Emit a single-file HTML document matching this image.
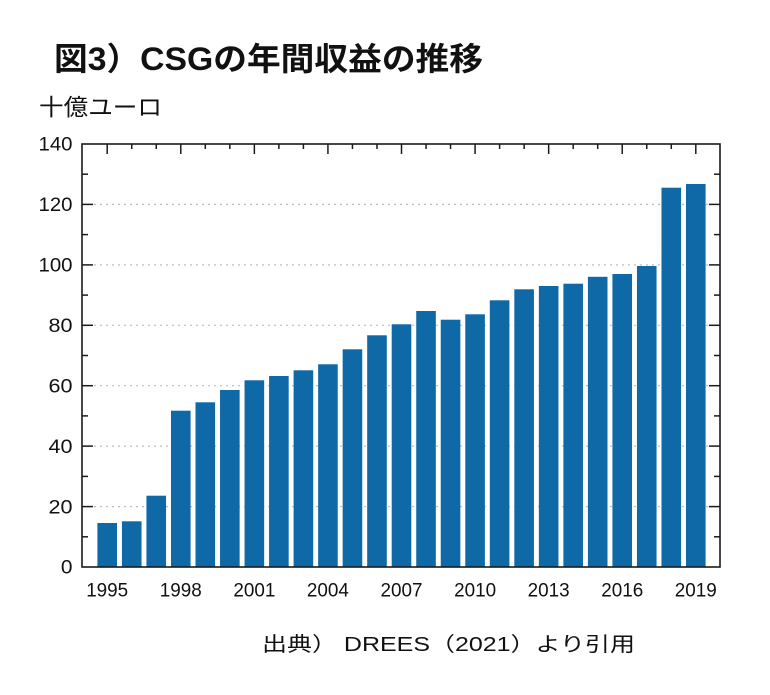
<!DOCTYPE html>
<html>
<head>
<meta charset="utf-8">
<style>
  html, body { margin:0; padding:0; background:#fff; }
  svg { display:block; }
  text { font-family: "Liberation Sans", "Noto Sans CJK JP", sans-serif; fill:#111; }
</style>
</head>
<body>
<svg width="770" height="695" viewBox="0 0 770 695" xmlns="http://www.w3.org/2000/svg">
  <rect x="0" y="0" width="770" height="695" fill="#fff"/>

  <!-- Title -->
  <text x="54" y="70" font-size="32" font-weight="bold" textLength="429" lengthAdjust="spacingAndGlyphs">図3）CSGの年間収益の推移</text>
  <!-- Unit -->
  <text x="39" y="115" font-size="23" textLength="123" lengthAdjust="spacingAndGlyphs">十億ユーロ</text>

  <!-- gridlines -->
  <g stroke="#bdbdbd" stroke-width="1.2" stroke-dasharray="2 4">
    <line x1="94" y1="506.6" x2="710" y2="506.6"/>
    <line x1="94" y1="446.1" x2="710" y2="446.1"/>
    <line x1="94" y1="385.7" x2="710" y2="385.7"/>
    <line x1="94" y1="325.3" x2="710" y2="325.3"/>
    <line x1="94" y1="264.9" x2="710" y2="264.9"/>
    <line x1="94" y1="204.4" x2="710" y2="204.4"/>
  </g>

  <!-- bars -->
  <g fill="#0f69a7">
    <rect x="97.4" y="523" width="19.6" height="44"/>
    <rect x="121.93" y="521.3" width="19.6" height="45.7"/>
    <rect x="146.45" y="495.7" width="19.6" height="71.3"/>
    <rect x="170.98" y="410.7" width="19.6" height="156.3"/>
    <rect x="195.5" y="402.3" width="19.6" height="164.7"/>
    <rect x="220.03" y="390" width="19.6" height="177"/>
    <rect x="244.55" y="380.3" width="19.6" height="186.7"/>
    <rect x="269.08" y="376" width="19.6" height="191"/>
    <rect x="293.6" y="370.3" width="19.6" height="196.7"/>
    <rect x="318.13" y="364.3" width="19.6" height="202.7"/>
    <rect x="342.65" y="349.3" width="19.6" height="217.7"/>
    <rect x="367.18" y="335.3" width="19.6" height="231.7"/>
    <rect x="391.7" y="324.3" width="19.6" height="242.7"/>
    <rect x="416.23" y="311" width="19.6" height="256"/>
    <rect x="440.75" y="319.7" width="19.6" height="247.3"/>
    <rect x="465.28" y="314.3" width="19.6" height="252.7"/>
    <rect x="489.8" y="300.3" width="19.6" height="266.7"/>
    <rect x="514.33" y="289.3" width="19.6" height="277.7"/>
    <rect x="538.85" y="286" width="19.6" height="281"/>
    <rect x="563.38" y="283.7" width="19.6" height="283.3"/>
    <rect x="587.9" y="276.8" width="19.6" height="290.2"/>
    <rect x="612.43" y="274" width="19.6" height="293"/>
    <rect x="636.95" y="266" width="19.6" height="301"/>
    <rect x="661.48" y="187.7" width="19.6" height="379.3"/>
    <rect x="686" y="184" width="19.6" height="383"/>
  </g>

  <!-- axes box -->
  <rect x="82" y="144" width="638" height="423" fill="none" stroke="#1a1a1a" stroke-width="1.6"/>

  <!-- left & right y ticks -->
  <g stroke="#1a1a1a" stroke-width="1.5">
    <line x1="82" y1="536.8" x2="88" y2="536.8"/>
    <line x1="82" y1="506.6" x2="93" y2="506.6"/>
    <line x1="82" y1="476.4" x2="88" y2="476.4"/>
    <line x1="82" y1="446.1" x2="93" y2="446.1"/>
    <line x1="82" y1="415.9" x2="88" y2="415.9"/>
    <line x1="82" y1="385.7" x2="93" y2="385.7"/>
    <line x1="82" y1="355.5" x2="88" y2="355.5"/>
    <line x1="82" y1="325.3" x2="93" y2="325.3"/>
    <line x1="82" y1="295.1" x2="88" y2="295.1"/>
    <line x1="82" y1="264.9" x2="93" y2="264.9"/>
    <line x1="82" y1="234.6" x2="88" y2="234.6"/>
    <line x1="82" y1="204.4" x2="93" y2="204.4"/>
    <line x1="82" y1="174.2" x2="88" y2="174.2"/>

    <line x1="714" y1="536.8" x2="720" y2="536.8"/>
    <line x1="709" y1="506.6" x2="720" y2="506.6"/>
    <line x1="714" y1="476.4" x2="720" y2="476.4"/>
    <line x1="709" y1="446.1" x2="720" y2="446.1"/>
    <line x1="714" y1="415.9" x2="720" y2="415.9"/>
    <line x1="709" y1="385.7" x2="720" y2="385.7"/>
    <line x1="714" y1="355.5" x2="720" y2="355.5"/>
    <line x1="709" y1="325.3" x2="720" y2="325.3"/>
    <line x1="714" y1="295.1" x2="720" y2="295.1"/>
    <line x1="709" y1="264.9" x2="720" y2="264.9"/>
    <line x1="714" y1="234.6" x2="720" y2="234.6"/>
    <line x1="709" y1="204.4" x2="720" y2="204.4"/>
    <line x1="714" y1="174.2" x2="720" y2="174.2"/>

    <!-- top x ticks -->
    <line x1="107.2" y1="144" x2="107.2" y2="154"/>
    <line x1="131.73" y1="144" x2="131.73" y2="149"/>
    <line x1="156.25" y1="144" x2="156.25" y2="149"/>
    <line x1="180.78" y1="144" x2="180.78" y2="154"/>
    <line x1="205.3" y1="144" x2="205.3" y2="149"/>
    <line x1="229.83" y1="144" x2="229.83" y2="149"/>
    <line x1="254.35" y1="144" x2="254.35" y2="154"/>
    <line x1="278.88" y1="144" x2="278.88" y2="149"/>
    <line x1="303.4" y1="144" x2="303.4" y2="149"/>
    <line x1="327.93" y1="144" x2="327.93" y2="154"/>
    <line x1="352.45" y1="144" x2="352.45" y2="149"/>
    <line x1="376.98" y1="144" x2="376.98" y2="149"/>
    <line x1="401.5" y1="144" x2="401.5" y2="154"/>
    <line x1="426.03" y1="144" x2="426.03" y2="149"/>
    <line x1="450.55" y1="144" x2="450.55" y2="149"/>
    <line x1="475.08" y1="144" x2="475.08" y2="154"/>
    <line x1="499.6" y1="144" x2="499.6" y2="149"/>
    <line x1="524.13" y1="144" x2="524.13" y2="149"/>
    <line x1="548.65" y1="144" x2="548.65" y2="154"/>
    <line x1="573.18" y1="144" x2="573.18" y2="149"/>
    <line x1="597.7" y1="144" x2="597.7" y2="149"/>
    <line x1="622.23" y1="144" x2="622.23" y2="154"/>
    <line x1="646.75" y1="144" x2="646.75" y2="149"/>
    <line x1="671.28" y1="144" x2="671.28" y2="149"/>
    <line x1="695.8" y1="144" x2="695.8" y2="154"/>
  </g>

  <!-- y labels -->
  <g font-size="19" text-anchor="end">
    <text x="72.5" y="573.7" textLength="11.6" lengthAdjust="spacingAndGlyphs">0</text>
    <text x="72.5" y="513.3" textLength="24" lengthAdjust="spacingAndGlyphs">20</text>
    <text x="72.5" y="452.8" textLength="24" lengthAdjust="spacingAndGlyphs">40</text>
    <text x="72.5" y="392.4" textLength="24" lengthAdjust="spacingAndGlyphs">60</text>
    <text x="72.5" y="332" textLength="24" lengthAdjust="spacingAndGlyphs">80</text>
    <text x="72.5" y="271.6" textLength="34" lengthAdjust="spacingAndGlyphs">100</text>
    <text x="72.5" y="211.1" textLength="34" lengthAdjust="spacingAndGlyphs">120</text>
    <text x="72.5" y="150.7" textLength="34" lengthAdjust="spacingAndGlyphs">140</text>
  </g>

  <!-- x labels -->
  <g font-size="19" text-anchor="middle">
    <text x="107.2" y="596.7" textLength="42" lengthAdjust="spacingAndGlyphs">1995</text>
    <text x="180.78" y="596.7" textLength="42" lengthAdjust="spacingAndGlyphs">1998</text>
    <text x="254.35" y="596.7" textLength="42" lengthAdjust="spacingAndGlyphs">2001</text>
    <text x="327.93" y="596.7" textLength="42" lengthAdjust="spacingAndGlyphs">2004</text>
    <text x="401.5" y="596.7" textLength="42" lengthAdjust="spacingAndGlyphs">2007</text>
    <text x="475.08" y="596.7" textLength="42" lengthAdjust="spacingAndGlyphs">2010</text>
    <text x="548.65" y="596.7" textLength="42" lengthAdjust="spacingAndGlyphs">2013</text>
    <text x="622.23" y="596.7" textLength="42" lengthAdjust="spacingAndGlyphs">2016</text>
    <text x="695.8" y="596.7" textLength="42" lengthAdjust="spacingAndGlyphs">2019</text>
  </g>

  <!-- source -->
  <text x="262" y="651" font-size="20" textLength="373" lengthAdjust="spacingAndGlyphs">出典） DREES（2021）より引用</text>
</svg>
</body>
</html>
